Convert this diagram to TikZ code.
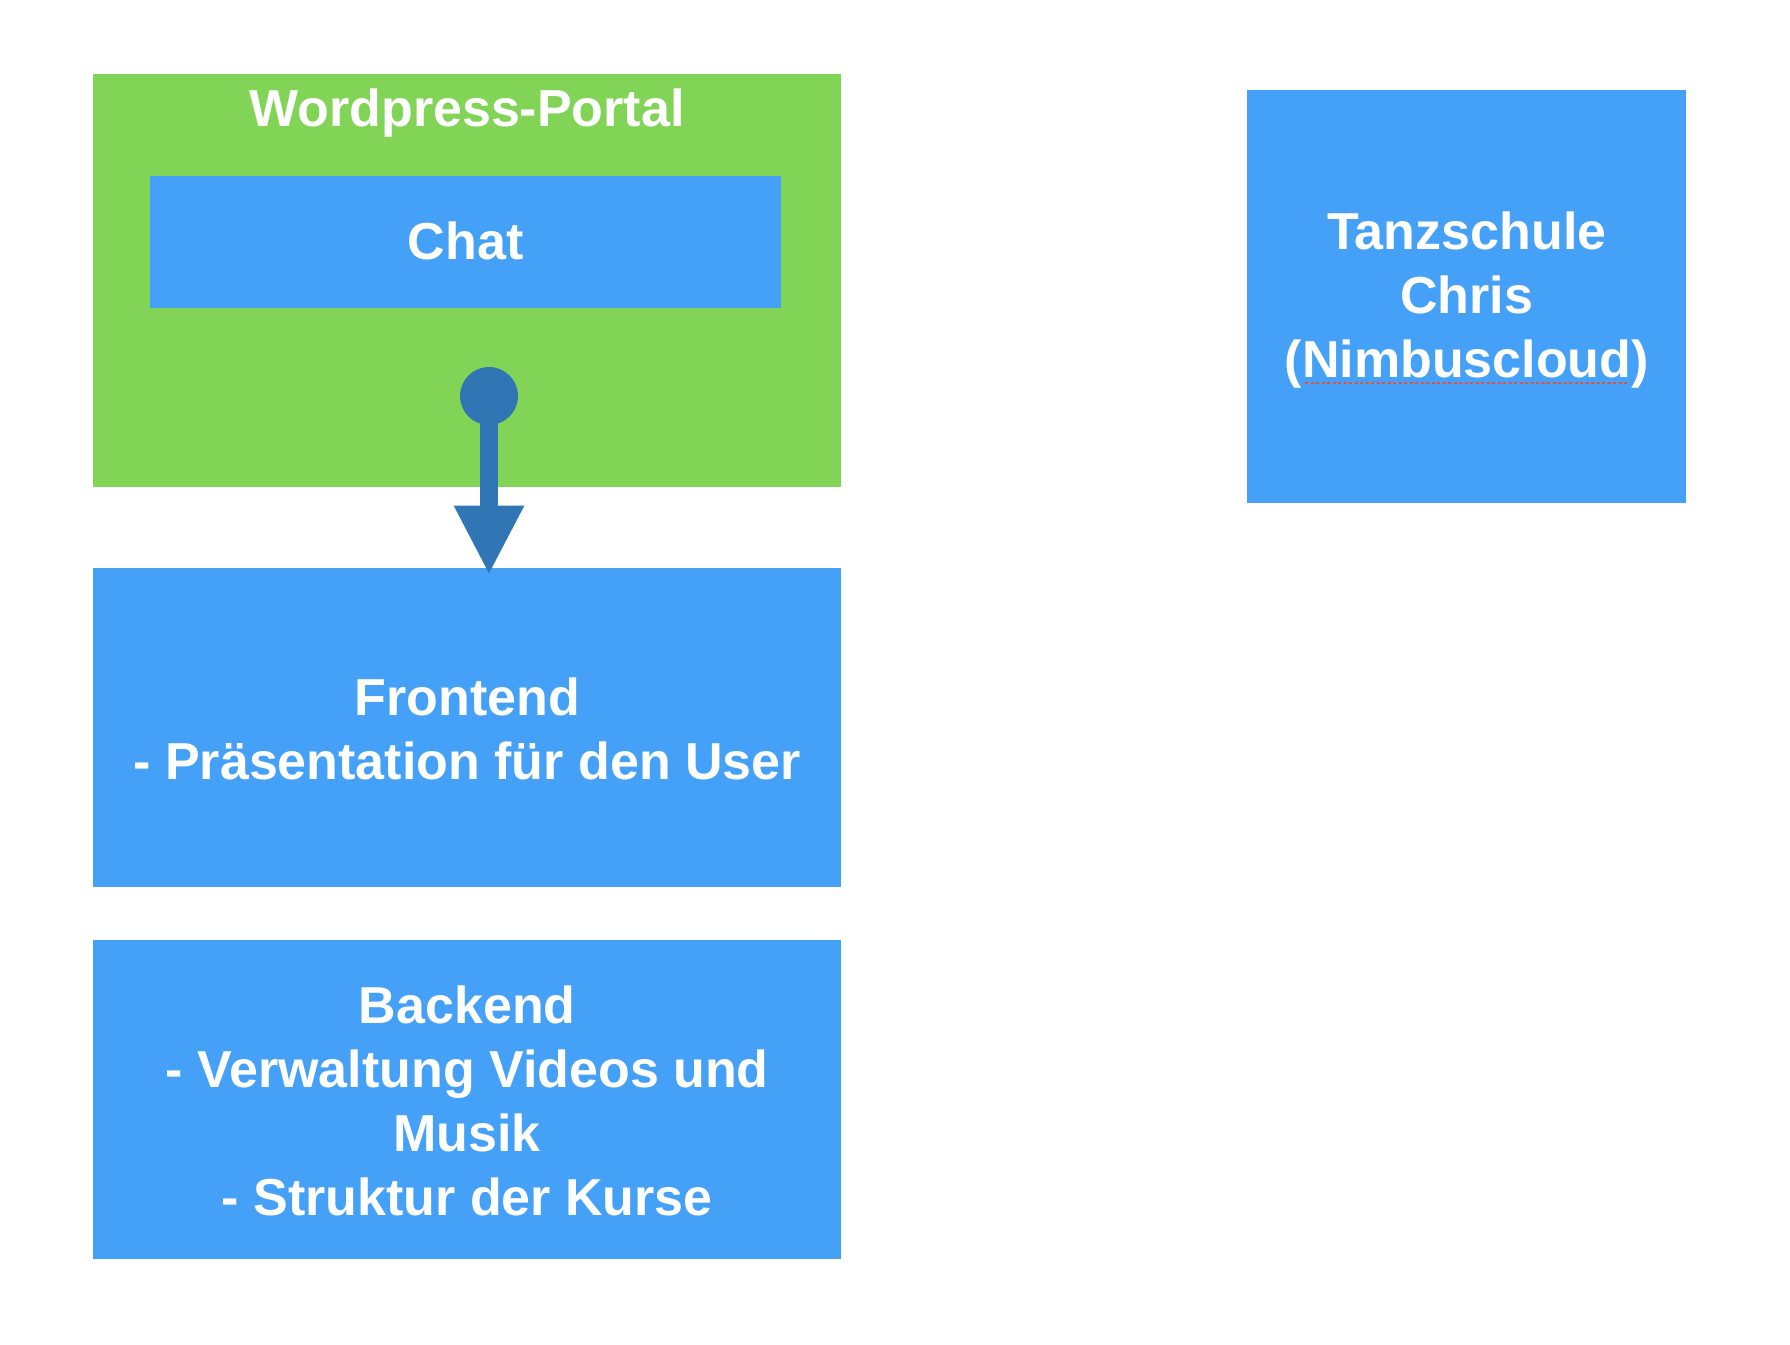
\documentclass[tikz,border=0pt]{standalone}
\usepackage{fontspec}
\setmainfont{Liberation Sans}
\usetikzlibrary{arrows.meta}
\definecolor{wpgreen}{HTML}{82D457}
\definecolor{boxblue}{HTML}{44A1F7}
\definecolor{arrowblue}{HTML}{3076B4}
\definecolor{spellred}{HTML}{E8503A}
\tikzset{
  box/.style={fill=boxblue, draw=none, inner sep=0pt, anchor=north west,
    text=white, font=\fontsize{52}{64}\selectfont\bfseries, align=center},
  label/.style={text=white, inner sep=0pt, font=\fontsize{52}{64}\selectfont\bfseries},
  conn/.style={draw=arrowblue, line width=17.7pt,
    -{Triangle[length=69.3pt,width=65pt]}},
}
\begin{document}
\begin{tikzpicture}[x=1pt,y=-1pt]
\useasboundingbox (0,0) rectangle (1790,1344);
\node[box, fill=wpgreen, minimum width=748pt, minimum height=412.7pt] (portal) at (93,74) {};
\node[label, anchor=base] (portaltitle) at (467,126) {Wordpress-Portal};
\node[box, minimum width=631pt, minimum height=131.7pt] (chat) at (150,176) {};
\node[label] (chattext) at ([yshift=1pt]chat.center) {Chat};
\node[box, minimum width=439pt, minimum height=412.7pt] (tanz) at (1247,90) {};
\node[label, align=center] (tanztext) at ([yshift=-3pt]tanz.center) {Tanzschule\\Chris\\(Nimbuscloud)};
\draw[spellred, line width=2.2pt, dash pattern=on 3pt off 2.5pt] (1305,383) -- (1627,383);
\node[box, minimum width=748pt, minimum height=319pt] (frontend) at (93,567.7) {};
\node[label, align=center] (fronttext) at ([yshift=-2pt]frontend.center) {Frontend\\- Präsentation für den User};
\node[box, minimum width=748pt, minimum height=318.7pt] (backend) at (93,940) {};
\node[label, align=center] (backtext) at ([yshift=-1pt]backend.center) {Backend\\- Verwaltung Videos und\\Musik\\- Struktur der Kurse};
\coordinate (dot) at (489,396);
\draw[conn, shorten >=-7.3pt] (dot) -- (dot |- frontend.north);
\fill[arrowblue] (dot) circle[radius=29pt];
\end{tikzpicture}
\end{document}
